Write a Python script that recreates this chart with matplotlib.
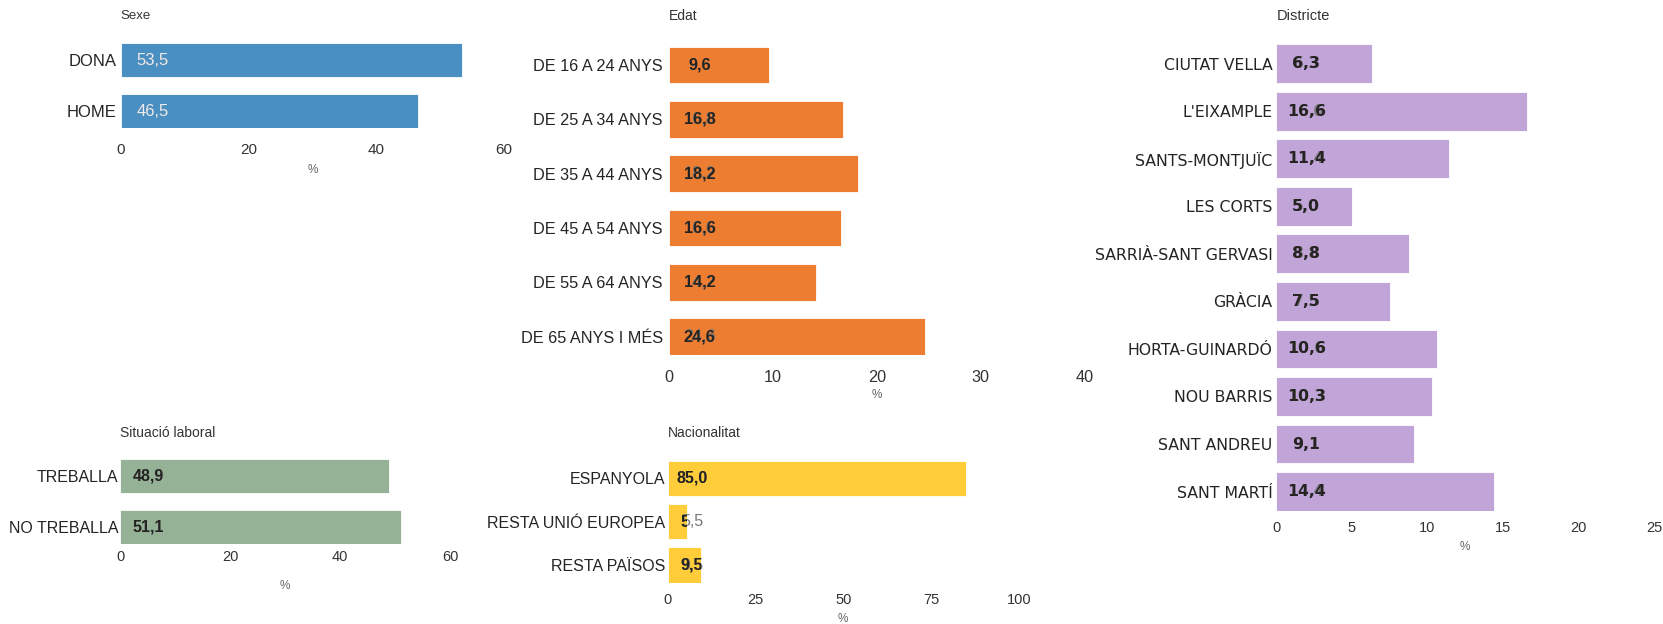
import matplotlib
matplotlib.use("Agg")
import matplotlib.pyplot as plt

plt.rcParams['font.family'] = ['Liberation Sans', 'DejaVu Sans']

# --- Data ---
sexe_cats = ["DONA", "HOME"]
sexe_vals = [53.5, 46.5]

edat_cats = ["DE 16 A 24 ANYS", "DE 25 A 34 ANYS", "DE 35 A 44 ANYS",
             "DE 45 A 54 ANYS", "DE 55 A 64 ANYS", "DE 65 ANYS I MÉS"]
edat_vals = [9.6, 16.8, 18.2, 16.6, 14.2, 24.6]

districte_cats = ["CIUTAT VELLA", "L'EIXAMPLE", "SANTS-MONTJUÏC", "LES CORTS",
                  "SARRIÀ-SANT GERVASI", "GRÀCIA", "HORTA-GUINARDÓ",
                  "NOU BARRIS", "SANT ANDREU", "SANT MARTÍ"]
districte_vals = [6.3, 16.6, 11.4, 5.0, 8.8, 7.5, 10.6, 10.3, 9.1, 14.4]

laboral_cats = ["TREBALLA", "NO TREBALLA"]
laboral_vals = [48.9, 51.1]

nacio_cats = ["ESPANYOLA", "RESTA UNIÓ EUROPEA", "RESTA PAÏSOS"]
nacio_vals = [85.0, 5.5, 9.5]

# --- Figure (positions in pixels) ---
W, H = 1663, 624
fig = plt.figure(figsize=(W / 100, H / 100), dpi=100)


def panel(title, cats, vals, color, xmax, xticks, left, right, top, bottom,
          h, title_y, tick_pad, pct_y, label_off, ypad=4, cat_fs=12, tick_fs=12,
          val_fs=12, title_fs=10, val_color="#252423", val_weight="bold",
          family=None):
    ax = fig.add_axes([left / W, 1 - bottom / H, (right - left) / W, (bottom - top) / H])
    n = len(cats)
    bars = ax.barh(range(n), vals, height=h, color=color, edgecolor="white", linewidth=0.6)
    ax.set_xlim(0, xmax)
    ax.set_ylim(n - 1 + h / 2, -h / 2)
    ax.set_yticks(range(n))
    ax.set_yticklabels(cats, fontsize=cat_fs, color="#252423", family=family)
    ax.set_xticks(xticks)
    ax.set_xticklabels([str(t) for t in xticks], fontsize=tick_fs, color="#333333")
    ax.tick_params(axis="y", length=0, pad=ypad * 0.72)
    ax.tick_params(axis="x", length=0, pad=tick_pad * 0.72)
    for s in ax.spines.values():
        s.set_visible(False)
    for i, v in enumerate(vals):
        txt = f"{v:.1f}".replace(".", ",")
        # grey where the label runs past the bar, dark on the bar
        ax.annotate(txt, xy=(0, i), xytext=(label_off * 0.72, 0),
                    textcoords="offset points", ha="center", va="center",
                    fontsize=val_fs, color="#777777", fontweight="normal",
                    family=family)
        t = ax.annotate(txt, xy=(0, i), xytext=(label_off * 0.72, 0),
                        textcoords="offset points", ha="center", va="center",
                        fontsize=val_fs, color=val_color, fontweight=val_weight,
                        family=family)
        t.set_clip_path(bars[i])
    fig.text(left / W, 1 - title_y / H, title, fontsize=title_fs, color="#333333",
             ha="left", va="center")
    fig.text((left + right) / 2 / W, 1 - pct_y / H, "%", fontsize=8.5, color="#666666",
             ha="center", va="center")
    return ax


panel("Sexe", sexe_cats, sexe_vals, "#4a8fc2", 60, [0, 20, 40, 60],
      120.7, 504, 43.3, 128.3, 0.669, 16, 14.5, 170, 32,
      ypad=4, tick_fs=11, val_color="#e6eef6", val_weight="normal", title_fs=9.5)

panel("Edat", edat_cats, edat_vals, "#ed7d31", 40, [0, 10, 20, 30, 40],
      668.7, 1084.7, 46.7, 355, 0.676, 16, 14.5, 395, 31,
      ypad=6, cat_fs=11.7, tick_fs=11.7, val_fs=11.7)

panel("Districte", districte_cats, districte_vals, "#c1a5d8", 25, [0, 5, 10, 15, 20, 25],
      1276.3, 1654.3, 44.3, 511, 0.818, 16, 10, 547, 30,
      ypad=4, cat_fs=11.3, tick_fs=10.5, val_fs=11.3, title_fs=10.5,
      family="DejaVu Sans")

panel("Situació laboral", laboral_cats, laboral_vals, "#95b296", 60, [0, 20, 40, 60],
      120.3, 450, 459.3, 544.3, 0.67, 433, 5.5, 585.7, 28,
      ypad=2, cat_fs=11.5, tick_fs=10.5, val_fs=11.5)

panel("Nacionalitat", nacio_cats, nacio_vals, "#ffcc3a", 100, [0, 25, 50, 75, 100],
      667.7, 1018.7, 460.7, 582.7, 0.815, 433.3, 10.5, 619.3, 24.3,
      ypad=2.7, cat_fs=11.5, tick_fs=10.5, val_fs=11.5)

fig.savefig("out.png", dpi=100)
